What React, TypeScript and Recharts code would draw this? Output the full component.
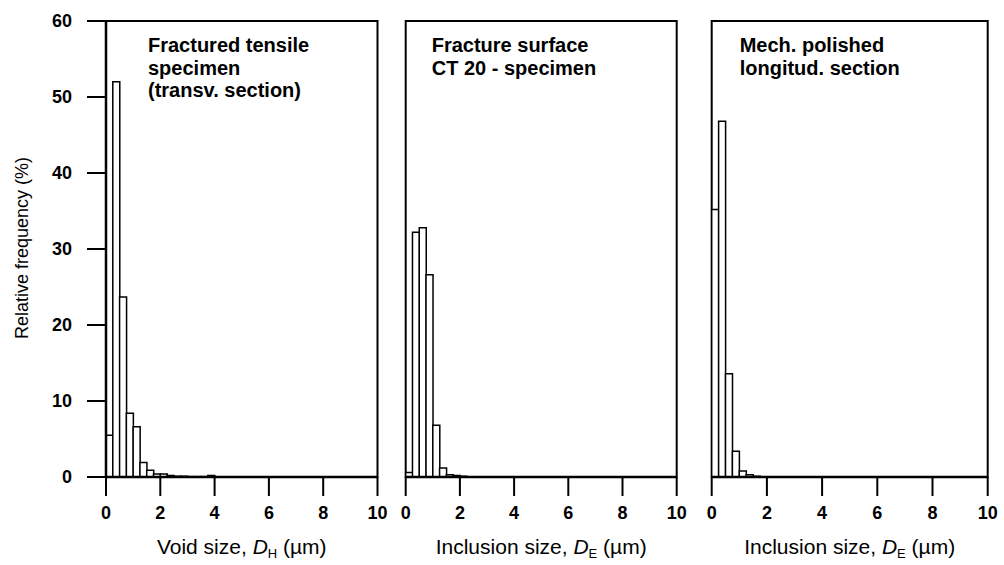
import { Bar, BarChart, Label, ReferenceArea, XAxis, YAxis } from "recharts"

// histogram bins are 0.25 µm wide, values are relative frequency (%)
const binWidth = 0.25
const xTicks = [0, 2, 4, 6, 8, 10]
const yTicks = [0, 10, 20, 30, 40, 50, 60]

const voidFreq = [5.5, 52.0, 23.7, 8.4, 6.6, 1.9, 0.9, 0.4, 0.4, 0.2, 0.1, 0.1, 0.05, 0.05, 0.05, 0.2]
const fractureFreq = [0.6, 32.2, 32.8, 26.6, 6.8, 1.2, 0.3, 0.2, 0.1]
const polishedFreq = [35.2, 46.8, 13.6, 3.4, 0.8, 0.3, 0.1]

const panelTitles = [
  ["Fractured tensile", "specimen", "(transv. section)"],
  ["Fracture surface", "CT 20 - specimen"],
  ["Mech. polished", "longitud. section"],
]

const FONT = "'Liberation Sans', Arial, sans-serif"
const W = 1004
const H = 565
const TOP = 21
const BOTTOM = 477

const toRows = (values: number[]) =>
  values.map((v, i) => ({ x: i * binWidth + binWidth / 2, v }))

type PanelProps = {
  values: number[]
  left: number
  right: number
  title: string[]
  titleDx: number
  xName: string
  sub: string
  showY?: boolean
}

function Panel({ values, left, right, title, titleDx, xName, sub, showY }: PanelProps) {
  const yAxisWidth = showY ? 60 : 0
  const xAxisHeight = 30
  return (
    <div style={{ position: "absolute", left: 0, top: 0 }}>
      <BarChart
        width={W}
        height={H}
        data={toRows(values)}
        barCategoryGap={0}
        barGap={0}
        margin={{
          top: TOP,
          left: left - yAxisWidth,
          right: W - right,
          bottom: H - BOTTOM - xAxisHeight,
        }}
      >
        <XAxis
          dataKey="x"
          type="number"
          domain={[0, 10]}
          ticks={xTicks}
          height={xAxisHeight}
          axisLine={{ stroke: "#000", strokeWidth: 2.5 }}
          tickLine={{ stroke: "#000", strokeWidth: 2 }}
          tickSize={19}
          tickMargin={10}
          tick={{ fill: "#000", fontSize: 18, fontWeight: 700, fontFamily: FONT }}
          label={{
            content: ({ viewBox }: any) => (
              <text
                x={viewBox.x + viewBox.width / 2}
                y={viewBox.y + 77}
                textAnchor="middle"
                fontSize={21}
                fontFamily={FONT}
                fill="#000"
              >
                {xName}
                <tspan fontStyle="italic">D</tspan>
                <tspan fontSize={13} dy={4}>{sub}</tspan>
                <tspan dy={-4}> (µm)</tspan>
              </text>
            ),
          }}
        />
        <YAxis
          type="number"
          domain={[0, 60]}
          ticks={yTicks}
          hide={!showY}
          width={yAxisWidth}
          axisLine={{ stroke: "#000", strokeWidth: 2.5 }}
          tickLine={{ stroke: "#000", strokeWidth: 2 }}
          tickSize={19}
          tickMargin={15}
          tick={{ fill: "#000", fontSize: 18, fontWeight: 700, fontFamily: FONT }}
        >
          {showY && (
            <Label
              content={() => (
                <text
                  x={22}
                  y={248}
                  transform="rotate(-90, 22, 248)"
                  textAnchor="middle"
                  dominantBaseline="central"
                  fontSize={18}
                  fontFamily={FONT}
                  fill="#000"
                >
                  Relative frequency (%)
                </text>
              )}
            />
          )}
        </YAxis>
        <Bar
          dataKey="v"
          fill="#fff"
          stroke="#000"
          strokeWidth={1.5}
          isAnimationActive={false}
        />
        <ReferenceArea
          x1={0}
          x2={10}
          y1={0}
          y2={60}
          fill="none"
          stroke="#000"
          strokeWidth={2}
          label={{
            content: ({ viewBox }: any) => (
              <text
                x={viewBox.x + titleDx}
                y={viewBox.y + 31}
                fontSize={20}
                fontWeight={700}
                fontFamily={FONT}
                fill="#000"
              >
                {title.map((line, i) => (
                  <tspan key={i} x={viewBox.x + titleDx} dy={i === 0 ? 0 : 22.5}>
                    {line}
                  </tspan>
                ))}
              </text>
            ),
          }}
        />
      </BarChart>
    </div>
  )
}

export default function App() {
  return (
    <div
      style={{
        position: "absolute",
        left: 0,
        top: 0,
        width: W,
        height: H,
        background: "#fff",
      }}
    >
      <Panel
        values={voidFreq}
        left={106}
        right={377.5}
        title={panelTitles[0]}
        titleDx={42}
        xName="Void size, "
        sub="H"
        showY
      />
      <Panel
        values={fractureFreq}
        left={405.7}
        right={676.7}
        title={panelTitles[1]}
        titleDx={26}
        xName="Inclusion size, "
        sub="E"
      />
      <Panel
        values={polishedFreq}
        left={711.7}
        right={987.7}
        title={panelTitles[2]}
        titleDx={28}
        xName="Inclusion size, "
        sub="E"
      />
    </div>
  )
}
